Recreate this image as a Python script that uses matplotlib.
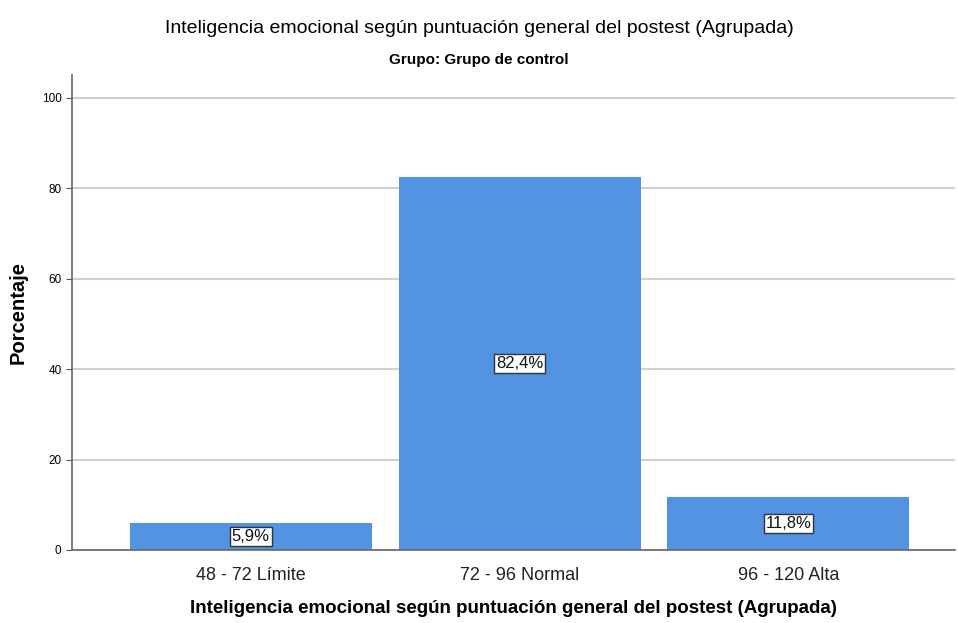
import matplotlib
matplotlib.use("Agg")
import matplotlib.pyplot as plt

categories = ["48 - 72 Límite", "72 - 96 Normal", "96 - 120 Alta"]
values = [5.9, 82.4, 11.8]
labels = ["5,9%", "82,4%", "11,8%"]
yticks = [0, 20, 40, 60, 80, 100]

plt.rcParams['font.family'] = ['Liberation Sans', 'DejaVu Sans']

fig = plt.figure(figsize=(9.58, 6.23), dpi=100)
ax = fig.add_axes([0.0752, 0.1172, 0.9218, 0.7624])

x = list(range(len(categories)))
ax.bar(x, values, width=0.9, color="#5294e2", zorder=2)
for xi, v, lab in zip(x, values, labels):
    ax.text(xi, v / 2, lab, ha="center", va="center", fontsize=12, color="#111111",
            bbox=dict(boxstyle="square,pad=0.12", fc="white", ec="#333333", lw=1), zorder=3)

ax.set_xlim(-0.665, 2.62)
ax.set_ylim(0, 105)
ax.set_yticks(yticks)
ax.set_xticks(x)
ax.set_xticklabels(categories, fontsize=13, color="#222222")
ax.tick_params(axis="y", labelsize=8.5, length=4, color="#555555")
ax.tick_params(axis="x", length=0, pad=12)
ax.yaxis.grid(True, color="#d0d0d0", lw=1.5, zorder=0)
ax.set_axisbelow(True)
for s in ["top", "right"]:
    ax.spines[s].set_visible(False)
for s in ["left", "bottom"]:
    ax.spines[s].set_color("#666666")
    ax.spines[s].set_linewidth(1.2)

ax.set_ylabel("Porcentaje", fontsize=14.5, fontweight="bold", labelpad=10)
ax.set_xlabel("Inteligencia emocional según puntuación general del postest (Agrupada)",
              fontsize=13.5, fontweight="bold", labelpad=12)

fig.text(0.5, 0.955, "Inteligencia emocional según puntuación general del postest (Agrupada)",
         ha="center", va="center", fontsize=14)
fig.text(0.5, 0.903, "Grupo: Grupo de control", ha="center", va="center", fontsize=11,
         fontweight="bold")

fig.savefig("out.png", dpi=100)
